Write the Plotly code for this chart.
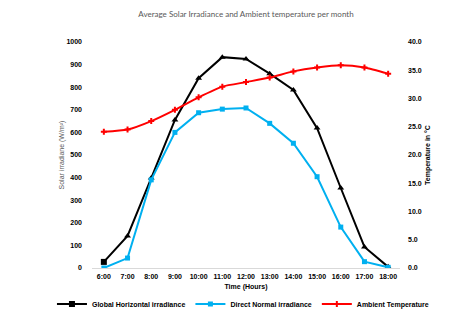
import plotly.graph_objects as go

hours = ["6:00", "7:00", "8:00", "9:00", "10:00", "11:00", "12:00",
         "13:00", "14:00", "15:00", "16:00", "17:00", "18:00"]
ghi = [27, 142, 398, 655, 840, 933, 925, 860, 788, 619, 354, 93, 5]
dni = [0, 44, 390, 600, 687, 703, 708, 640, 552, 404, 181, 28, 3]
temp = [24.1, 24.5, 26.0, 28.0, 30.2, 32.1, 32.9, 33.7, 34.8, 35.5, 35.9, 35.5, 34.4]

left_ticks = list(range(0, 1001, 100))
right_ticks = [i * 5.0 for i in range(9)]

ghi_symbols = ["square"] + ["triangle-up"] * (len(hours) - 1)

fig = go.Figure()
fig.add_trace(go.Scatter(x=hours, y=ghi, name="Global Horizontal irradiance",
                         mode="lines+markers",
                         line=dict(color="black", width=2),
                         marker=dict(symbol=ghi_symbols, size=6, color="black")))
fig.add_trace(go.Scatter(x=hours, y=dni, name="Direct Normal irradiance",
                         mode="lines+markers",
                         line=dict(color="#00B0F0", width=2),
                         marker=dict(symbol="square", size=5, color="#00B0F0")))
fig.add_trace(go.Scatter(x=hours, y=temp, name="Ambient Temperature",
                         mode="lines+markers", yaxis="y2",
                         line=dict(color="#FF0000", width=2, shape="spline", smoothing=0.6),
                         marker=dict(symbol="cross", size=5, color="#FF0000")))

F = "Liberation Sans, Arial"
bold7 = dict(family=F, size=7, color="black", weight="bold")
fig.update_layout(
    width=460, height=317,
    margin=dict(l=92, r=60, t=42, b=49, autoexpand=False),
    paper_bgcolor="white", plot_bgcolor="white",
    title=dict(text="Average Solar Irradiance and Ambient temperature per month",
               xref="paper", x=0.5, xanchor="center", y=0.955, yanchor="middle",
               font=dict(family="Lato, Open Sans", size=8, color="#595959")),
    xaxis=dict(type="category", range=[-0.5, len(hours) - 0.5], tickfont=bold7,
               showgrid=False, showline=True, linecolor="#D9D9D9", linewidth=1,
               ticks="", zeroline=False, ticklabelstandoff=2,
               title=dict(text="Time (Hours)", standoff=4, font=bold7)),
    yaxis=dict(range=[0, 1000], tickvals=left_ticks, showgrid=False, zeroline=False,
               tickfont=bold7, ticks="", ticklabelstandoff=9,
               title=dict(text="Solar irradiane (W/m²)", standoff=0,
                          font=dict(family=F, size=7, color="#595959"))),
    yaxis2=dict(range=[0, 40], tickvals=right_ticks, tickformat=".1f", overlaying="y",
                side="right", showgrid=False, zeroline=False, ticks="",
                tickfont=bold7, ticklabelstandoff=7,
                title=dict(text="Temperature in °C", standoff=4, font=bold7)),
    legend=dict(orientation="h", x=-0.13, xanchor="left", y=-0.159, yanchor="middle",
                font=bold7, itemwidth=30, tracegroupgap=0,
                bgcolor="rgba(0,0,0,0)"),
    showlegend=True,
)
fig.write_html("out.html", config={"displayModeBar": False},
               post_script="document.body.style.margin='0';document.body.style.overflow='hidden';")
